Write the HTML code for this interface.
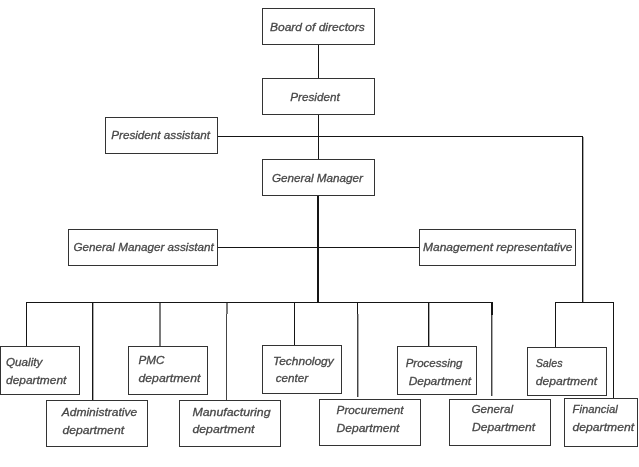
<!DOCTYPE html>
<html><head><meta charset="utf-8">
<style>
html,body{margin:0;padding:0;background:#fff;width:639px;height:467px;overflow:hidden}
svg{display:block;will-change:transform}
text{font-family:"Liberation Sans",sans-serif;font-style:italic;font-size:11.7px;fill:#474747;stroke:#474747;stroke-width:0.3px}
</style></head><body>
<svg width="639" height="467" viewBox="0 0 639 467">
<g fill="none" stroke="#333" stroke-width="1" shape-rendering="crispEdges">
<rect x="262.5" y="8.5" width="112" height="36"/>
<rect x="262.5" y="78.5" width="112" height="36"/>
<rect x="262.5" y="159.5" width="112" height="36"/>
<rect x="105.5" y="117.5" width="112" height="36"/>
<rect x="68.5" y="229.5" width="149" height="36"/>
<rect x="419.5" y="229.5" width="156" height="36"/>
<rect x="0.5" y="346.5" width="79" height="48"/>
<rect x="46.5" y="400.5" width="101" height="46"/>
<rect x="128.5" y="346.5" width="79" height="48"/>
<rect x="179.5" y="400.5" width="101" height="46"/>
<rect x="262.5" y="345.5" width="79" height="48"/>
<rect x="319.5" y="399.5" width="101" height="46"/>
<rect x="397.5" y="346.5" width="79" height="48"/>
<rect x="449.5" y="399.5" width="101" height="46"/>
<rect x="527.5" y="347.5" width="79" height="48"/>
<rect x="564.5" y="398.5" width="73" height="48"/>
</g>
<g fill="none" stroke="#151515" stroke-width="1" shape-rendering="crispEdges">
<path d="M318.5 45V78M318.5 115V159M218 136.5H582.5V302M218 247.5H419M26.5 346V302.5H493M92.5 302V400M294.5 302V345M357.5 302V314M428.5 302V346M555.5 347V302.5H613.5V398"/>
<path d="M318 196V302M492 302V315" stroke-width="2"/>
</g>
<g fill="none" stroke="#444" stroke-width="1" shape-rendering="crispEdges">
<path d="M491.5 315V396M226.5 314V400M357.5 314V397"/>
</g>
<g fill="none" stroke="#aaa" stroke-width="1" shape-rendering="crispEdges">
<path d="M583.5 137V302M93.5 303V400M429.5 303V346M492.5 315V396M358.5 314V397"/>
</g>
<g fill="none" stroke="#7a7a7a" stroke-width="2" shape-rendering="crispEdges">
<path d="M160 303V346M227 303V314"/>
</g>
<text x="270" y="31" textLength="94.65" lengthAdjust="spacingAndGlyphs">Board of directors</text>
<text x="290.3" y="101">President</text>
<text x="272" y="182">General Manager</text>
<text x="111.2" y="139">President assistant</text>
<text x="73.4" y="251">General Manager assistant</text>
<text x="423" y="251" textLength="149.33" lengthAdjust="spacingAndGlyphs">Management representative</text>
<text x="6" y="366">Quality</text>
<text x="6" y="384" textLength="60.33" lengthAdjust="spacingAndGlyphs">department</text>
<text x="138.5" y="364">PMC</text>
<text x="138.5" y="382" textLength="61.83" lengthAdjust="spacingAndGlyphs">department</text>
<text x="273" y="365" textLength="60.76" lengthAdjust="spacingAndGlyphs">Technology</text>
<text x="275.7" y="382" textLength="32.48" lengthAdjust="spacingAndGlyphs">center</text>
<text x="405.7" y="367" textLength="56.83" lengthAdjust="spacingAndGlyphs">Processing</text>
<text x="408.7" y="385" textLength="62.48" lengthAdjust="spacingAndGlyphs">Department</text>
<text x="535.7" y="367" textLength="26.95" lengthAdjust="spacingAndGlyphs">Sales</text>
<text x="535.7" y="385" textLength="61.33" lengthAdjust="spacingAndGlyphs">department</text>
<text x="61.7" y="416" textLength="75.51" lengthAdjust="spacingAndGlyphs">Administrative</text>
<text x="62.5" y="434" textLength="61.52" lengthAdjust="spacingAndGlyphs">department</text>
<text x="192.5" y="416" textLength="78.08" lengthAdjust="spacingAndGlyphs">Manufacturing</text>
<text x="192.5" y="433" textLength="61.92" lengthAdjust="spacingAndGlyphs">department</text>
<text x="336.6" y="414">Procurement</text>
<text x="336.6" y="432" textLength="62.88" lengthAdjust="spacingAndGlyphs">Department</text>
<text x="471.5" y="413">General</text>
<text x="472" y="431" textLength="63.18" lengthAdjust="spacingAndGlyphs">Department</text>
<text x="572.6" y="413" textLength="45.08" lengthAdjust="spacingAndGlyphs">Financial</text>
<text x="572.6" y="431" textLength="61.42" lengthAdjust="spacingAndGlyphs">department</text>
</svg>
</body></html>
